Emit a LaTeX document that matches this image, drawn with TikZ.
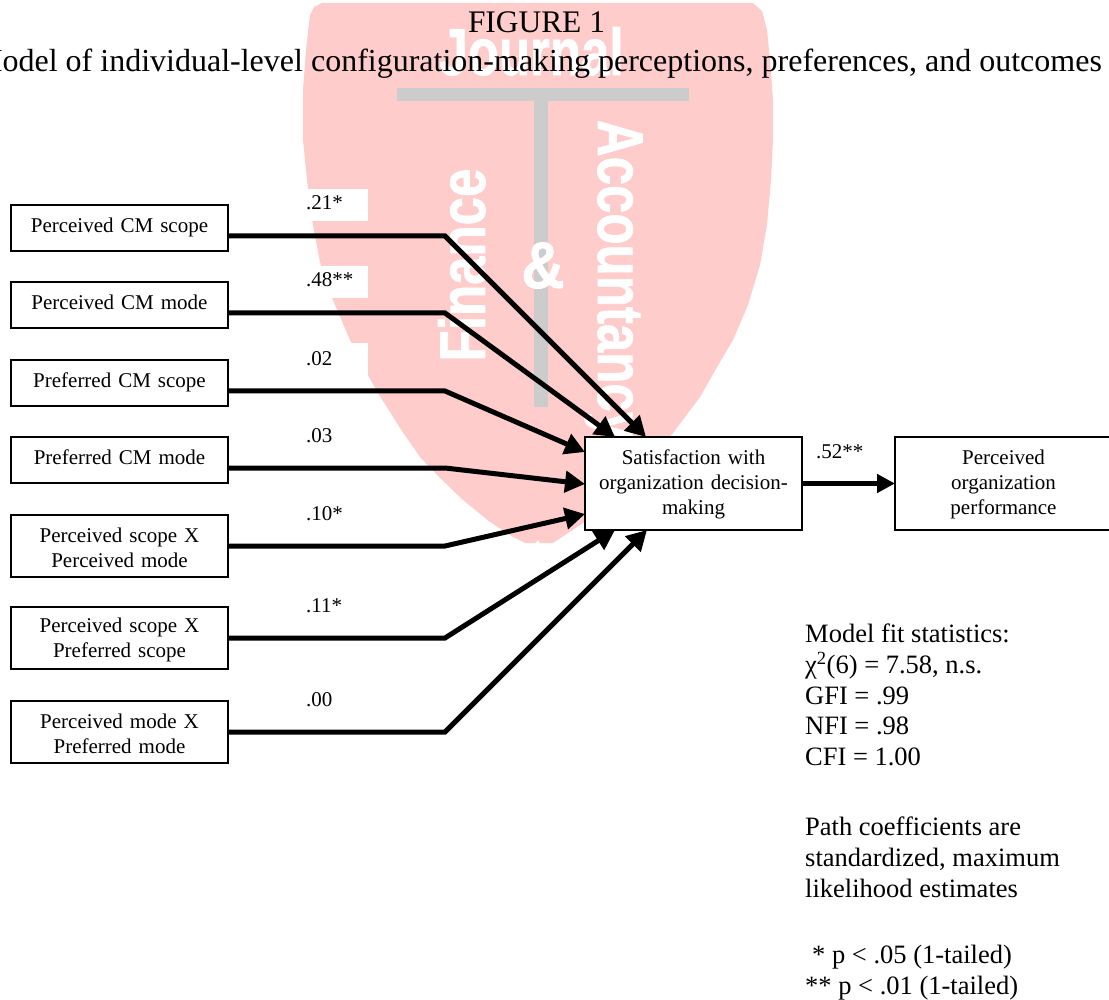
\documentclass[tikz,border=0pt]{standalone}
\usepackage{graphicx}
\usepackage{fontspec}
\setmainfont{Liberation Serif}
\newfontfamily\wmfont{Liberation Sans}[BoldFont=Liberation Sans Bold,BoldFeatures={FakeBold=1.2}]
\usetikzlibrary{arrows.meta,positioning}
\definecolor{shieldpink}{HTML}{FFCCCC}
\definecolor{wmgrey}{HTML}{CCCCCC}
\tikzset{
  x=1pt,y=-1pt,
  boxtext/.style={font=\fontsize{21}{25}\selectfont},
  varbox/.style={boxtext,draw=black,line width=1.8pt,fill=white,minimum width=217pt,outer sep=0pt,inner sep=0pt,align=center,anchor=north west,text width=215pt},
  onebox/.style={varbox,minimum height=46pt,text depth=5pt,text height=14pt},
  twobox/.style={varbox,minimum height=62pt,execute at begin node={\rule{0pt}{17.5pt}}},
  threebox/.style={varbox,minimum height=93pt,execute at begin node={\rule{0pt}{16pt}}},
  coef/.style={font=\fontsize{21}{25}\selectfont,anchor=base west,inner sep=0pt},
  path/.style={line width=5pt,line join=miter,-{Triangle[length=20pt,width=21pt]}},
  note/.style={font=\fontsize{26.5}{30.7}\selectfont,anchor=north west,inner sep=0pt,align=left},
  wm/.style={text=white,inner sep=0pt,font=\wmfont\bfseries\fontsize{51}{51}\selectfont},
  titletext/.style={inner sep=0pt,anchor=base}
}
\begin{document}
\begin{tikzpicture}
\path[use as bounding box,fill=white] (0,0) rectangle (1109,1000);
% watermark
\fill[shieldpink] (322,3) -- (753,3) -- (762,11) -- (767,30) -- (770,60) -- (773,100) -- (773,140) -- (771,180)
 -- (767,225) -- (760,265) -- (748,305) -- (733,340) -- (720,362) -- (700,397) -- (673,433)
 -- (640,472) -- (605,505) -- (583,523) -- (553,543) -- (540,543) -- (538,540) -- (535,543) -- (525,543)
 -- (513,537) -- (490,522) -- (463,500) -- (440,478) -- (420,457) -- (400,428) -- (378,393)
 -- (362,365) -- (350,340) -- (332,298) -- (320,262) -- (312,220) -- (307,180) -- (303,140) -- (303,90)
 -- (306,50) -- (310,15) -- (314,7) -- cycle;
\fill[wmgrey] (397,88) rectangle (689,101);
\fill[wmgrey] (534,101) rectangle (548,407);
\node[wm,anchor=base] (wj) at (531.5,75) {\scalebox{1}[1.3]{Journal}};
\node[wm,anchor=base,rotate=90] (wf) at (485,265) {\scalebox{1}[1.27]{Finance}};
\node[wm,anchor=base,rotate=-90] (wa) at (598,280) {\scalebox{1}[1.27]{Accountancy}};
\node[wm,anchor=base] (wamp) at (543,288) {\fontsize{60}{60}\selectfont\scalebox{1}[1.1]{\&}};
% label backgrounds
\fill[white] (298,189) rectangle (368,221);
\fill[white] (298,266) rectangle (368,298);
\fill[white] (298,343) rectangle (368,375);
% titles
\node[titletext,font=\fontsize{31.4}{36}\selectfont] (t1) at (536.5,33) {FIGURE 1};
\node[titletext,font=\fontsize{32}{36}\selectfont] (t2) at (538,72) {Model of individual-level configuration-making perceptions, preferences, and outcomes};
% boxes
\node[onebox] (a1) at (11,205) {Perceived CM scope};
\node[onebox] (a2) at (11,282) {Perceived CM mode};
\node[onebox] (a3) at (11,360) {Preferred CM scope};
\node[onebox] (a4) at (11,437) {Preferred CM mode};
\node[twobox] (a5) at (11,515) {Perceived scope X\\Perceived mode};
\node[twobox] (a6) at (11,607) {Perceived scope X\\Preferred scope};
\node[twobox] (a7) at (11,701) {Perceived mode X\\Preferred mode};
\node[threebox] (sat) at (585,437) {Satisfaction with\\organization decision-\\making};
\node[threebox] (perf) at (895,437) {Perceived\\organization\\performance};
% bends
\coordinate (b1) at (445,236);
\coordinate (b2) at (445,313);
\coordinate (b3) at (445,391);
\coordinate (b4) at (445,468);
\coordinate (b5) at (445,546);
\coordinate (b6) at (445,638);
\coordinate (b7) at (445,732);
% connectors
\draw[path] (a1.east |- b1) -- (b1) -- ([xshift=61pt]sat.north west);
\draw[path] (a2.east |- b2) -- (b2) -- ([xshift=30pt]sat.north west);
\draw[path] (a3.east |- b3) -- (b3) -- ([yshift=-15pt]sat.north west);
\draw[path] (a4.east |- b4) -- (b4) -- ([yshift=-47pt]sat.north west);
\draw[path] (a5.east |- b5) -- (b5) -- ([yshift=16pt]sat.south west);
\draw[path] (a6.east |- b6) -- (b6) -- ([xshift=30pt]sat.south west);
\draw[path] (a7.east |- b7) -- (b7) -- ([xshift=62pt]sat.south west);
\draw[line width=5.6pt,-{Triangle[length=18pt,width=18pt]}] (sat.east) -- (perf.west);
% coefficients
\node[coef] (c1) at (306,210) {.21*};
\node[coef] (c2) at (306,287) {.48**};
\node[coef] (c3) at (306,366) {.02};
\node[coef] (c4) at (306,442) {.03};
\node[coef] (c5) at (306,520) {.10*};
\node[coef] (c6) at (306,612) {.11*};
\node[coef] (c7) at (306,706) {.00};
\node[coef] (c8) at (816,458) {.52**};
% notes
\node[note] (n1) at (805,624) {Model fit statistics:\\χ\textsuperscript{2}(6) = 7.58, n.s.\\GFI = .99\\NFI = .98\\CFI = 1.00};
\node[note] (n2) at (805,817) {Path coefficients are\\standardized, maximum\\likelihood estimates};
\node[note] (n3) at (805,945) {\hspace*{7pt}* p < .05 (1-tailed)\\** p < .01 (1-tailed)};
\end{tikzpicture}
\end{document}
